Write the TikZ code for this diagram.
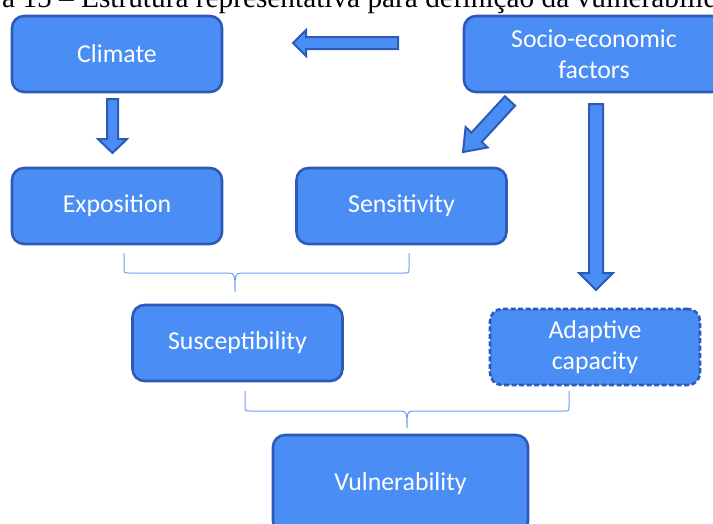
\documentclass[tikz,border=0pt]{standalone}
\usepackage{fontspec}
\setmainfont{Liberation Serif}
\newfontfamily\boxfont{Carlito}
\definecolor{boxfill}{RGB}{74,141,245}
\definecolor{boxline}{RGB}{44,90,182}
\definecolor{bracecol}{RGB}{105,158,240}
\tikzset{
  box/.style={draw=boxline, fill=boxfill, line width=2.6pt, rounded corners=12pt,
    text=white, align=center, inner sep=0pt,
    font=\boxfont\fontsize{25.8}{31}\selectfont,
    minimum width=210pt, minimum height=76pt},
  dashedbox/.style={box, dash pattern=on 5pt off 2.5pt},
  blockarrow/.style={draw=boxline, fill=boxfill, line width=2pt, line join=miter},
  bracket/.style={draw=bracecol, line width=1pt}
}
\begin{document}
\begin{tikzpicture}[x=1pt,y=-1pt]
\useasboundingbox (0,0) rectangle (713,523);
\clip (0,0) rectangle (713,523);
% caption (cut off at the top)
\node[anchor=base west, inner sep=0pt, font=\fontsize{29.3}{32}\selectfont] (caption) at (2,7.5)
  {a 15 – Estrutura representativa para definição da vulnerabilidade};
% boxes
\node[box] (climate) at (117,54) {Climate};
\node[box, minimum width=260pt] (socio) at (594,54) {Socio-economic\\factors};
\node[box] (expo) at (117,206) {Exposition};
\node[box] (sens) at (401.5,206) {Sensitivity};
\node[box] (susc) at (237.5,343) {Susceptibility};
\node[dashedbox] (adapt) at (595,347) {Adaptive\\capacity};
\node[box, minimum width=255pt, minimum height=98pt] (vuln) at (400.5,484) {Vulnerability};
% block arrows
\draw[blockarrow] (398,37) -- (306,37) -- (306,30) -- (293,43) -- (306,56) -- (306,49) -- (398,49) -- cycle;
\draw[blockarrow] (107,99) -- (107,139) -- (98,139) -- (112.5,153) -- (127,139) -- (118,139) -- (118,99) -- cycle;
\draw[blockarrow] (504.9,96.3) -- (471.5,132.6) -- (465.6,127.1) -- (463,152) -- (487.6,147.5) -- (481.7,142) -- (515.1,105.7) -- cycle;
\draw[blockarrow] (589,104) -- (589,273) -- (579,273) -- (596,290) -- (613,273) -- (603,273) -- (603,104) -- cycle;
% braces
\coordinate (b1l) at (124,253);
\coordinate (b1r) at (409,253);
\coordinate (b1t) at (235,292);
\draw[bracket] (b1l) -- (124,268) .. controls (124,273) .. (129,273) -- (229,273)
  .. controls (235,273) and (235,276) .. (b1t) .. controls (235,276) and (235,273) .. (241,273)
  -- (404,273) .. controls (409,273) .. (409,268) -- (b1r);
\coordinate (b2l) at (245,391);
\coordinate (b2r) at (569,391);
\coordinate (b2t) at (407,428);
\draw[bracket] (b2l) -- (245,406) .. controls (245,411) .. (250,411) -- (401,411)
  .. controls (407,411) and (407,414) .. (b2t) .. controls (407,414) and (407,411) .. (413,411)
  -- (564,411) .. controls (569,411) .. (569,406) -- (b2r);
\end{tikzpicture}
\end{document}
